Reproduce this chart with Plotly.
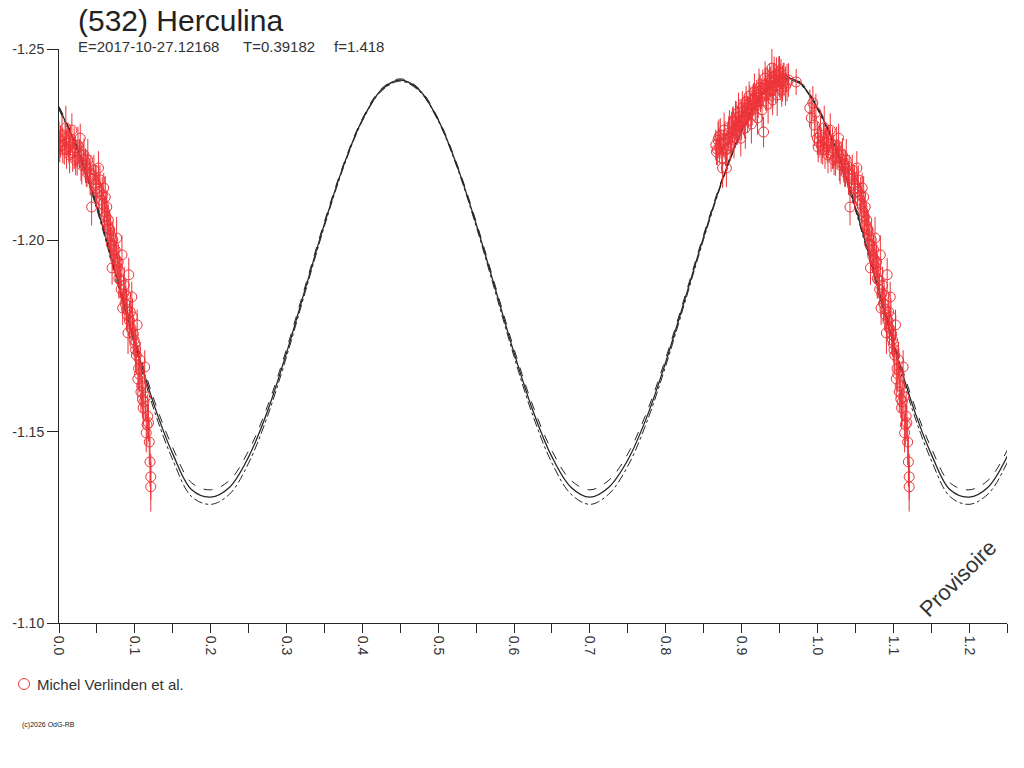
import plotly.graph_objects as go

# model lightcurve (phase step 0.025)
model_phase = [0.000, 0.025, 0.050, 0.075, 0.100, 0.125, 0.150, 0.175, 0.200, 0.225,
               0.250, 0.275, 0.300, 0.325, 0.350, 0.375, 0.400, 0.425, 0.450, 0.475,
               0.500, 0.525, 0.550, 0.575, 0.600, 0.625, 0.650, 0.675, 0.700, 0.725,
               0.750, 0.775, 0.800, 0.825, 0.850, 0.875, 0.900, 0.925, 0.950, 0.975, 1.000]
model_mag = [-1.2346, -1.2236, -1.2087, -1.1912, -1.1734, -1.1572, -1.1442, -1.1348, -1.1329, -1.1355,
             -1.1434, -1.1554, -1.1706, -1.1875, -1.2043, -1.2194, -1.2315, -1.2393, -1.2419, -1.2393,
             -1.2315, -1.2194, -1.2043, -1.1875, -1.1706, -1.1554, -1.1434, -1.1355, -1.1329, -1.1355,
             -1.1426, -1.1538, -1.1682, -1.1844, -1.2009, -1.2160, -1.2286, -1.2377, -1.2422, -1.2414, -1.2346]
model_band = [0.0004, 0.0005, 0.0007, 0.0009, 0.0011, 0.0013, 0.0016, 0.0018, 0.0019, 0.0018,
              0.0016, 0.0013, 0.0010, 0.0008, 0.0006, 0.0004, 0.0003, 0.0003, 0.0003, 0.0003,
              0.0003, 0.0004, 0.0006, 0.0008, 0.0010, 0.0013, 0.0016, 0.0018, 0.0019, 0.0018,
              0.0016, 0.0013, 0.0010, 0.0008, 0.0006, 0.0004, 0.0003, 0.0003, 0.0003, 0.0003, 0.0004]

# observations before phase 1.0 (rising to the second maximum)
phase_a = [0.866, 0.867, 0.869, 0.871, 0.872, 0.874, 0.875, 0.876, 0.877, 0.879,
           0.880, 0.882, 0.884, 0.885, 0.887, 0.889, 0.890, 0.892, 0.894, 0.896,
           0.897, 0.899, 0.901, 0.903, 0.905, 0.906, 0.908, 0.910, 0.912, 0.913,
           0.915, 0.917, 0.919, 0.921, 0.923, 0.925, 0.927, 0.929, 0.931, 0.931,
           0.933, 0.935, 0.937, 0.939, 0.940, 0.941, 0.943, 0.945, 0.947, 0.949,
           0.951, 0.953, 0.955, 0.958, 0.962, 0.972, 0.990, 0.992, 0.994, 0.996,
           0.998, 0.868, 0.870, 0.873, 0.878, 0.881, 0.883, 0.886, 0.888, 0.891,
           0.893, 0.895, 0.898, 0.900, 0.902, 0.904, 0.907, 0.909, 0.911, 0.914,
           0.916, 0.918, 0.920, 0.922, 0.924, 0.926, 0.928, 0.932, 0.934, 0.936,
           0.938, 0.942, 0.944, 0.946, 0.948, 0.950, 0.952, 0.954, 0.956, 0.960]
mag_a = [-1.2249, -1.2231, -1.2262, -1.2241, -1.2275, -1.2215, -1.2189, -1.2254, -1.2288, -1.2236,
         -1.2189, -1.2267, -1.2296, -1.2247, -1.2281, -1.2309, -1.2262, -1.2320, -1.2286, -1.2335,
         -1.2301, -1.2267, -1.2346, -1.2314, -1.2294, -1.2362, -1.2328, -1.2377, -1.2341, -1.2304,
         -1.2367, -1.2388, -1.2351, -1.2320, -1.2398, -1.2375, -1.2341, -1.2283, -1.2424, -1.2406,
         -1.2382, -1.2356, -1.2419, -1.2393, -1.2450, -1.2367, -1.2429, -1.2403, -1.2380, -1.2440,
         -1.2414, -1.2393, -1.2424, -1.2403, -1.2419, -1.2414, -1.2346, -1.2320, -1.2359, -1.2301,
         -1.2335, -1.2238, -1.2270, -1.2252, -1.2262, -1.2240, -1.2280, -1.2268, -1.2300, -1.2290,
         -1.2310, -1.2298, -1.2325, -1.2312, -1.2335, -1.2322, -1.2345, -1.2333, -1.2358, -1.2350,
         -1.2370, -1.2362, -1.2380, -1.2372, -1.2390, -1.2384, -1.2398, -1.2395, -1.2410, -1.2402,
         -1.2415, -1.2412, -1.2420, -1.2432, -1.2418, -1.2428, -1.2435, -1.2410, -1.2420, -1.2412]
err_a = [0.0040, 0.0034, 0.0048, 0.0038, 0.0044, 0.0040, 0.0052, 0.0036, 0.0046, 0.0042,
         0.0050, 0.0038, 0.0044, 0.0040, 0.0055, 0.0041, 0.0048, 0.0044, 0.0037, 0.0051,
         0.0040, 0.0048, 0.0044, 0.0040, 0.0055, 0.0041, 0.0048, 0.0038, 0.0044, 0.0051,
         0.0040, 0.0048, 0.0040, 0.0044, 0.0051, 0.0040, 0.0048, 0.0040, 0.0044, 0.0044,
         0.0040, 0.0051, 0.0044, 0.0048, 0.0058, 0.0040, 0.0051, 0.0044, 0.0055, 0.0040,
         0.0048, 0.0044, 0.0040, 0.0051, 0.0044, 0.0034, 0.0048, 0.0051, 0.0044, 0.0055,
         0.0048, 0.0042, 0.0046, 0.0038, 0.0050, 0.0040, 0.0044, 0.0039, 0.0047, 0.0041,
         0.0053, 0.0037, 0.0045, 0.0049, 0.0040, 0.0056, 0.0043, 0.0038, 0.0046, 0.0050,
         0.0041, 0.0047, 0.0039, 0.0052, 0.0044, 0.0040, 0.0048, 0.0057, 0.0042, 0.0045,
         0.0038, 0.0050, 0.0043, 0.0046, 0.0041, 0.0054, 0.0039, 0.0047, 0.0044, 0.0049]

# observations after phase 0.0 (falling branch)
phase_b = [0.000, 0.001, 0.004, 0.007, 0.009, 0.012, 0.014, 0.017, 0.020, 0.022,
           0.025, 0.028, 0.030, 0.033, 0.036, 0.038, 0.041, 0.043, 0.046, 0.049,
           0.052, 0.054, 0.057, 0.059, 0.061, 0.063, 0.065, 0.067, 0.070, 0.071,
           0.074, 0.076, 0.078, 0.080, 0.083, 0.084, 0.086, 0.088, 0.091, 0.092,
           0.094, 0.096, 0.097, 0.099, 0.101, 0.103, 0.104, 0.107, 0.108, 0.111,
           0.113, 0.114, 0.115, 0.116, 0.118, 0.119, 0.120, 0.121, 0.121,
           0.002, 0.005, 0.008, 0.010, 0.013, 0.015, 0.018, 0.021, 0.024, 0.027,
           0.029, 0.032, 0.035, 0.037, 0.040, 0.042, 0.045, 0.048, 0.050, 0.053,
           0.056, 0.058, 0.060, 0.062, 0.064, 0.066, 0.068, 0.069, 0.072, 0.073,
           0.075, 0.077, 0.079, 0.081, 0.082, 0.085, 0.087, 0.089, 0.090, 0.093,
           0.095, 0.098, 0.100, 0.102, 0.105, 0.106, 0.109, 0.110, 0.112, 0.117]
mag_b = [-1.2267, -1.2244, -1.2275, -1.2236, -1.2294, -1.2254, -1.2223, -1.2288, -1.2241, -1.2210,
         -1.2249, -1.2267, -1.2197, -1.2223, -1.2179, -1.2210, -1.2163, -1.2087, -1.2184, -1.2145,
         -1.2189, -1.2158, -1.2118, -1.2137, -1.2113, -1.2087, -1.2053, -1.2027, -1.1928, -1.2001,
         -1.1975, -1.2006, -1.1943, -1.1917, -1.1962, -1.1823, -1.1883, -1.1857, -1.1758, -1.1910,
         -1.1813, -1.1852, -1.1800, -1.1740, -1.1714, -1.1779, -1.1638, -1.1687, -1.1604, -1.1562,
         -1.1669, -1.1591, -1.1497, -1.1518, -1.1523, -1.1473, -1.1421, -1.1382, -1.1356,
         -1.2258, -1.2248, -1.2265, -1.2238, -1.2245, -1.2260, -1.2228, -1.2232, -1.2215, -1.2226,
         -1.2205, -1.2212, -1.2195, -1.2188, -1.2176, -1.2170, -1.2160, -1.2150, -1.2135, -1.2128,
         -1.2105, -1.2095, -1.2075, -1.2062, -1.2040, -1.2030, -1.2012, -1.1990, -1.1985, -1.1960,
         -1.1950, -1.1930, -1.1900, -1.1895, -1.1872, -1.1860, -1.1835, -1.1820, -1.1805, -1.1790,
         -1.1770, -1.1755, -1.1730, -1.1700, -1.1665, -1.1650, -1.1620, -1.1585, -1.1578, -1.1540]
err_b = [0.0044, 0.0040, 0.0051, 0.0038, 0.0058, 0.0040, 0.0048, 0.0044, 0.0055, 0.0040,
         0.0048, 0.0038, 0.0051, 0.0044, 0.0040, 0.0055, 0.0044, 0.0048, 0.0040, 0.0051,
         0.0044, 0.0038, 0.0048, 0.0040, 0.0055, 0.0044, 0.0040, 0.0051, 0.0044, 0.0048,
         0.0040, 0.0055, 0.0044, 0.0040, 0.0051, 0.0044, 0.0048, 0.0040, 0.0055, 0.0044,
         0.0051, 0.0040, 0.0048, 0.0044, 0.0055, 0.0040, 0.0051, 0.0048, 0.0055, 0.0051,
         0.0044, 0.0058, 0.0051, 0.0055, 0.0048, 0.0060, 0.0065, 0.0060, 0.0065,
         0.0042, 0.0047, 0.0039, 0.0051, 0.0044, 0.0040, 0.0049, 0.0043, 0.0046, 0.0038,
         0.0050, 0.0041, 0.0045, 0.0048, 0.0039, 0.0053, 0.0044, 0.0047, 0.0040, 0.0046,
         0.0043, 0.0049, 0.0041, 0.0052, 0.0045, 0.0038, 0.0050, 0.0044, 0.0047, 0.0042,
         0.0048, 0.0040, 0.0053, 0.0045, 0.0042, 0.0049, 0.0046, 0.0051, 0.0043, 0.0047,
         0.0044, 0.0052, 0.0046, 0.0049, 0.0054, 0.0047, 0.0056, 0.0050, 0.0053, 0.0058]

y_ticks = [-1.25, -1.20, -1.15, -1.10]
y_labels = ["-1.25", "-1.20", "-1.15", "-1.10"]

title_text = "(532) Herculina"
epoch_text = "E=2017-10-27.12168"
period_text = "T=0.39182"
f_text = "f=1.418"
observer = "Michel Verlinden et al."

red = "#ee3338"
ink = "#262626"
font_family = "Liberation Sans, Arial, sans-serif"

# repeat one cycle so the phase axis can run past 1.0
curve_x = model_phase + [p + 1 for p in model_phase[1:]]
curve_y = model_mag + model_mag[1:]
band = model_band + model_band[1:]
upper_y = [m - b for m, b in zip(curve_y, band)]
lower_y = [m + b for m, b in zip(curve_y, band)]

obs_phase = phase_a + phase_b
obs_mag = mag_a + mag_b
obs_err = err_a + err_b
data_x = obs_phase + [p + 1 for p in obs_phase]
data_y = obs_mag + obs_mag
data_e = obs_err + obs_err

fig = go.Figure()

for ys, dash in [(upper_y, "dash"), (lower_y, "dashdot")]:
    fig.add_trace(go.Scatter(x=curve_x, y=ys, mode="lines", line_shape="spline",
                             line=dict(color=ink, width=1, dash=dash),
                             showlegend=False, hoverinfo="skip"))
fig.add_trace(go.Scatter(x=curve_x, y=curve_y, mode="lines", line_shape="spline",
                         line=dict(color=ink, width=1.3), showlegend=False))

fig.add_trace(go.Scatter(x=data_x, y=data_y, mode="markers", name=observer,
                         showlegend=False,
                         marker=dict(symbol="circle-open", size=10, color=red,
                                     line=dict(width=1, color=red)),
                         error_y=dict(type="data", array=data_e, visible=True,
                                      color=red, thickness=1, width=0)))

def note(text, x, y, size, xanchor="left", yanchor="middle", angle=0, color="#333333"):
    return dict(text=text, xref="paper", yref="paper", x=x, y=y, xanchor=xanchor,
                yanchor=yanchor, showarrow=False, textangle=angle,
                font=dict(size=size, color=color))

fig.update_layout(
    width=1024, height=768,
    paper_bgcolor="white", plot_bgcolor="white",
    margin=dict(l=59, r=17, t=49, b=145),
    font=dict(family=font_family, color="#333333", size=14),
    showlegend=False,
    annotations=[
        note(title_text, 0.018, 1.0505, 30, color="#222222"),
        note(epoch_text, 0.018, 1.004, 15),
        note(period_text, 0.192, 1.004, 15),
        note(f_text, 0.288, 1.004, 15),
        note("Provisoire", 0.948, 0.078, 22, xanchor="center", yanchor="middle", angle=-45),
        note(observer, -0.0253, -0.1063, 15),
        note("(c)2026 OdG-RB", -0.041, -0.178, 7, color="#222222"),
    ],
    shapes=[
        # legend symbol
        dict(type="circle", xref="paper", yref="paper",
             x0=-0.0427, x1=-0.0311, y0=-0.1159, y1=-0.0967,
             line=dict(color=red, width=1)),
    ],
)

fig.update_xaxes(range=[0, 1.25], showgrid=False, zeroline=False, automargin=False,
                 showline=True, linecolor=ink, linewidth=1,
                 ticks="outside", ticklen=9, tickcolor=ink, dtick=0.1, tick0=0,
                 tickformat=".1f", tickangle=90, tickfont=dict(size=14),
                 minor=dict(dtick=0.05, ticks="outside", ticklen=9, tickcolor=ink))
fig.update_yaxes(range=[-1.10, -1.25], showgrid=False, zeroline=False, automargin=False,
                 showline=True, linecolor=ink, linewidth=1,
                 ticks="outside", ticklen=11, tickcolor=ink,
                 tickvals=y_ticks, ticktext=y_labels, tickfont=dict(size=14))

# drop the default 8 px page margin so the figure sits at the window corner
fig.write_html("out.html", config={"displayModeBar": False},
               post_script="document.body.style.margin = '0';")
